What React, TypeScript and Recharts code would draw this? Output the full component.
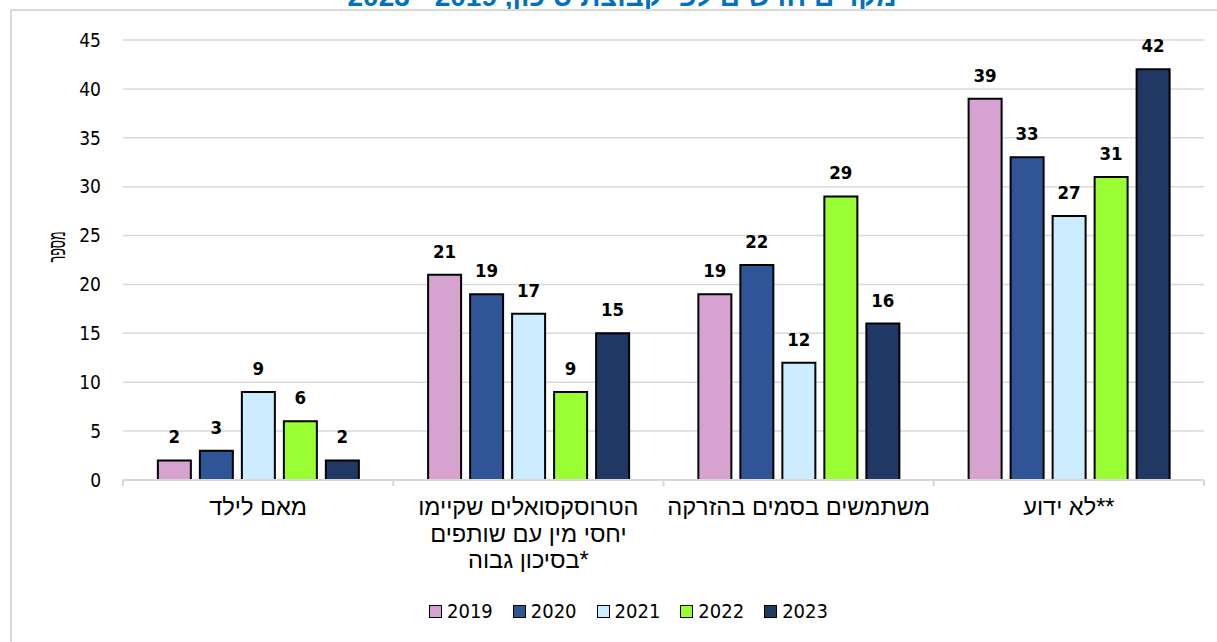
import React from 'react';
import { BarChart, Bar, XAxis, YAxis, CartesianGrid, LabelList } from 'recharts';

const categories = [
  'מאם לילד',
  'הטרוסקסואלים שקיימו\nיחסי מין עם שותפים\nבסיכון גבוה*',
  'משתמשים בסמים בהזרקה',
  'לא ידוע**',
];
const years = ['2019', '2020', '2021', '2022', '2023'];
const values2019 = [2, 21, 19, 39];
const values2020 = [3, 19, 22, 33];
const values2021 = [9, 17, 12, 27];
const values2022 = [6, 9, 29, 31];
const values2023 = [2, 15, 16, 42];
const yTicks = [0, 5, 10, 15, 20, 25, 30, 35, 40, 45];
const colors = ['#D6A2CF', '#2F5597', '#CCECFF', '#99FF33', '#1F3864'];
const titleText = 'מקרים חדשים לפי קבוצת סיכון, 2019 - 2023';
const yAxisTitle = 'מספר';

const seriesValues = [values2019, values2020, values2021, values2022, values2023];
const data = categories.map((c, i) => {
  const row: Record<string, string | number> = { category: c };
  years.forEach((y, k) => {
    row['y' + y] = seriesValues[k][i];
  });
  return row;
});

const NUM_FONT = "'DejaVu Sans Condensed', 'DejaVu Sans', sans-serif";
const HEB_FONT = "'Liberation Sans', Arial, sans-serif";
const GRID = '#d9d9d9';
const TICK_SIZE = 6;
const TICK_MARGIN = 2;

const CatTick = (props: any) => {
  const { x, y, payload, index } = props;
  const lines = String(payload.value).split('\n');
  const half = payload.offset ?? 135;
  const axisY = y - TICK_SIZE - TICK_MARGIN;
  return (
    <g>
      <line x1={x - half} x2={x - half} y1={axisY} y2={axisY + 6} stroke={GRID} strokeWidth={2} />
      {index === categories.length - 1 && (
        <line x1={x + half} x2={x + half} y1={axisY} y2={axisY + 6} stroke={GRID} strokeWidth={2} />
      )}
      <text x={x} y={axisY + 35} textAnchor="middle" fontFamily={HEB_FONT} fontSize={23.6} fill="#000">
        {lines.map((l, i) => (
          <tspan key={i} x={x} dy={i === 0 ? 0 : 26.5}>
            {l}
          </tspan>
        ))}
      </text>
    </g>
  );
};

export default function App() {
  return (
    <div
      style={{
        position: 'fixed',
        left: 0,
        top: 0,
        width: 1217,
        height: 642,
        background: '#fff',
        overflow: 'hidden',
      }}
    >
      <svg width={1217} height={20} style={{ position: 'absolute', left: 0, top: 0 }}>
        <text
          x={622}
          y={6}
          textAnchor="middle"
          direction="rtl"
          fontFamily={HEB_FONT}
          fontWeight="bold"
          fontSize={28}
          fill="#0070C0"
        >
          {titleText}
        </text>
      </svg>
      <div
        style={{
          position: 'absolute',
          left: 10,
          top: 9,
          width: 1400,
          height: 800,
          borderLeft: `2px solid ${GRID}`,
          borderTop: `2px solid ${GRID}`,
        }}
      />
      <div style={{ position: 'absolute', left: 0, top: 0 }}>
        <BarChart
          width={1217}
          height={642}
          data={data}
          margin={{ top: 40, right: 13, left: 0, bottom: 0 }}
          barCategoryGap="12.9%"
          barGap={9}
        >
          <CartesianGrid vertical={false} stroke={GRID} strokeWidth={1.5} />
          <XAxis
            dataKey="category"
            height={162}
            interval={0}
            tickLine={false}
            tickSize={TICK_SIZE}
            tickMargin={TICK_MARGIN}
            axisLine={{ stroke: GRID, strokeWidth: 2 }}
            tick={<CatTick />}
          />
          <YAxis
            width={123}
            domain={[0, 45]}
            ticks={yTicks}
            interval={0}
            axisLine={false}
            tickLine={false}
            tickSize={TICK_SIZE}
            tickMargin={16}
            tick={{ fill: '#000', fontSize: 19, fontFamily: NUM_FONT }}
          />
          {years.map((y, k) => (
            <Bar
              key={y}
              dataKey={'y' + y}
              name={y}
              fill={colors[k]}
              stroke="#000"
              strokeWidth={2}
              isAnimationActive={false}
            >
              <LabelList
                dataKey={'y' + y}
                position="top"
                offset={17}
                fill="#000"
                fontSize={18.5}
                fontWeight="bold"
                fontFamily={NUM_FONT}
              />
            </Bar>
          ))}
        </BarChart>
      </div>
      <svg width={100} height={400} style={{ position: 'absolute', left: 0, top: 0 }}>
        <text
          x={57}
          y={247}
          transform="rotate(-90 57 247)"
          textAnchor="middle"
          dominantBaseline="central"
          fontFamily={HEB_FONT}
          fontSize={23}
          textLength={31}
          lengthAdjust="spacingAndGlyphs"
          fill="#000"
        >
          {yAxisTitle}
        </text>
      </svg>
      <div
        style={{
          position: 'absolute',
          left: 429,
          top: 601,
          display: 'flex',
          alignItems: 'center',
          fontFamily: NUM_FONT,
          fontSize: 20,
          color: '#000',
          lineHeight: '20px',
        }}
      >
        {years.map((y, k) => (
          <div key={y} style={{ display: 'flex', alignItems: 'center', marginRight: 20 }}>
            <div
              style={{
                width: 13,
                height: 13,
                boxSizing: 'border-box',
                border: '1.5px solid #000',
                background: colors[k],
                marginRight: 5,
              }}
            />
            <span>{y}</span>
          </div>
        ))}
      </div>
    </div>
  );
}
